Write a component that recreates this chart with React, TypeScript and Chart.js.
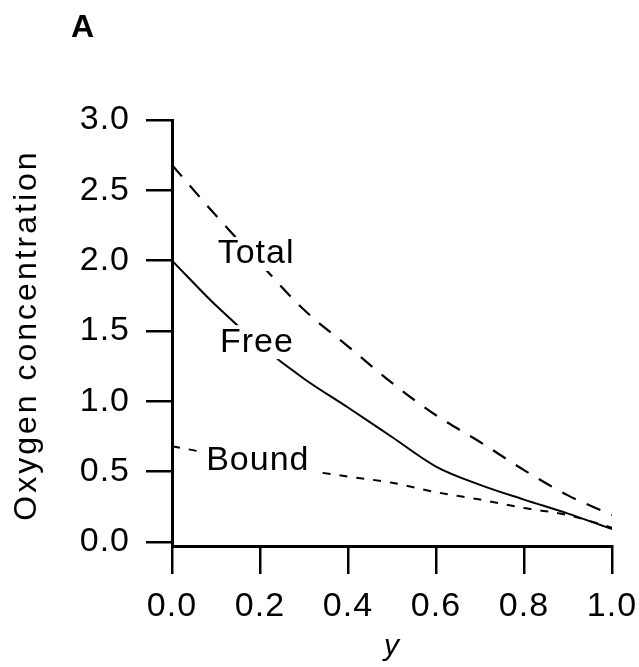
import React, { useEffect, useRef } from "react";
import { Chart, registerables } from "chart.js";

Chart.register(...registerables);

const xValues = [0, 0.1, 0.2, 0.3, 0.4, 0.5, 0.6, 0.7, 0.8, 0.9, 1.0];
const totalValues = [2.68, 2.32, 1.98, 1.65, 1.39, 1.13, 0.9, 0.71, 0.51, 0.33, 0.19];
const freeValues = [2.0, 1.68, 1.4, 1.16, 0.955, 0.745, 0.535, 0.405, 0.3, 0.2, 0.09];
const boundValues = [0.68, 0.62, 0.56, 0.51, 0.464, 0.42, 0.353, 0.3, 0.24, 0.19, 0.1];

const yTickValues = [0, 0.5, 1.0, 1.5, 2.0, 2.5, 3.0];

const curveLabels = ["Total", "Free", "Bound"];
const curveLabelX = [0.191, 0.193, 0.195];
const curveLabelY = [2.047, 1.42, 0.576];

const panelLetter = "A";
const yTitle = "Oxygen concentration";
const xTitle = "y";

const FONT = "'Liberation Sans', Arial, Helvetica, sans-serif";

const toPoints = (ys: number[]) => xValues.map((x, i) => ({ x, y: ys[i] }));

const labelPlugin = {
  id: "curveLabels",
  beforeLayout(chart: any) {
    chart.ctx.letterSpacing = "1px";
  },
  beforeDraw(chart: any) {
    chart.ctx.letterSpacing = "1px";
  },
  afterDatasetsDraw(chart: any) {
    const ctx = chart.ctx;
    const xs = chart.scales.x;
    const ys = chart.scales.y;
    ctx.save();
    ctx.letterSpacing = "1px";
    ctx.font = `34px ${FONT}`;
    ctx.textAlign = "center";
    ctx.textBaseline = "middle";
    curveLabels.forEach((t, i) => {
      const px = xs.getPixelForValue(curveLabelX[i]);
      const py = ys.getPixelForValue(curveLabelY[i]);
      const w = ctx.measureText(t).width;
      ctx.fillStyle = "#ffffff";
      ctx.fillRect(px - w / 2 - 5, py - 17, w + 10, 34);
      ctx.fillStyle = "#000000";
      ctx.fillText(t, px, py);
    });
    ctx.letterSpacing = "0px";
    ctx.font = `bold 32px ${FONT}`;
    ctx.textAlign = "left";
    ctx.textBaseline = "alphabetic";
    ctx.fillText(panelLetter, 71, 37);

    // y-axis title
    const ca = chart.chartArea;
    ctx.letterSpacing = "3px";
    ctx.font = `32px ${FONT}`;
    ctx.textAlign = "center";
    ctx.textBaseline = "middle";
    ctx.translate(27, (ca.top + ca.bottom) / 2 + 2);
    ctx.rotate(-Math.PI / 2);
    ctx.fillText(yTitle, 0, 0);
    ctx.restore();
  },
};

export default function App() {
  const ref = useRef<HTMLCanvasElement | null>(null);
  useEffect(() => {
    if (!ref.current) return;
    const chart = new Chart(ref.current, {
      type: "line",
      data: {
        datasets: [
          {
            label: "Total",
            data: toPoints(totalValues),
            borderColor: "#000",
            borderWidth: 2.2,
            borderDash: [15, 12],
            pointRadius: 0,
            tension: 0.4,
            cubicInterpolationMode: "monotone",
            fill: false,
          },
          {
            label: "Free",
            data: toPoints(freeValues),
            borderColor: "#000",
            borderWidth: 2,
            pointRadius: 0,
            tension: 0.4,
            cubicInterpolationMode: "monotone",
            fill: false,
          },
          {
            label: "Bound",
            data: toPoints(boundValues),
            borderColor: "#000",
            borderWidth: 2,
            borderDash: [8, 9],
            pointRadius: 0,
            tension: 0.4,
            cubicInterpolationMode: "monotone",
            fill: false,
          },
        ],
      },
      options: {
        animation: false,
        responsive: true,
        maintainAspectRatio: false,
        layout: { padding: { top: 120, right: 27, left: 0, bottom: 0 } },
        plugins: {
          legend: { display: false },
          tooltip: { enabled: false },
          title: { display: false },
        },
        scales: {
          x: {
            type: "linear",
            min: 0,
            max: 1,
            afterFit: (s: any) => {
              s.height = 121;
              s.paddingLeft = 0;
              s.paddingRight = 0;
            },
            ticks: {
              stepSize: 0.2,
              color: "#000",
              font: { size: 34, family: FONT },
              padding: 12,
              maxRotation: 0,
              callback: (v: any) => Number(v).toFixed(1),
            },
            grid: {
              display: true,
              drawOnChartArea: false,
              drawTicks: true,
              tickLength: 28,
              color: "#000",
              lineWidth: 2.5,
            },
            border: { display: true, color: "#000", width: 3 },
            title: {
              display: true,
              text: xTitle,
              color: "#000",
              font: { size: 30, style: "italic", family: FONT },
              padding: { top: 0, bottom: 2 },
            },
          },
          y: {
            type: "linear",
            min: -0.03,
            max: 3.0,
            afterFit: (s: any) => {
              s.width = 172;
              s.paddingTop = 0;
              s.paddingBottom = 0;
            },
            afterBuildTicks: (s: any) => {
              s.ticks = yTickValues.map((v) => ({ value: v }));
            },
            ticks: {
              color: "#000",
              font: { size: 34, family: FONT },
              padding: 16,
              callback: (v: any) => Number(v).toFixed(1),
            },
            grid: {
              display: true,
              drawOnChartArea: false,
              drawTicks: true,
              tickLength: 26,
              color: "#000",
              lineWidth: 2.5,
            },
            border: { display: true, color: "#000", width: 3 },
            title: { display: false },
          },
        },
      },
      plugins: [labelPlugin],
    } as any);
    return () => chart.destroy();
  }, []);
  return (
    <div style={{ position: "absolute", left: 0, top: 0, width: 639, height: 667, background: "#fff" }}>
      <canvas ref={ref} />
    </div>
  );
}
